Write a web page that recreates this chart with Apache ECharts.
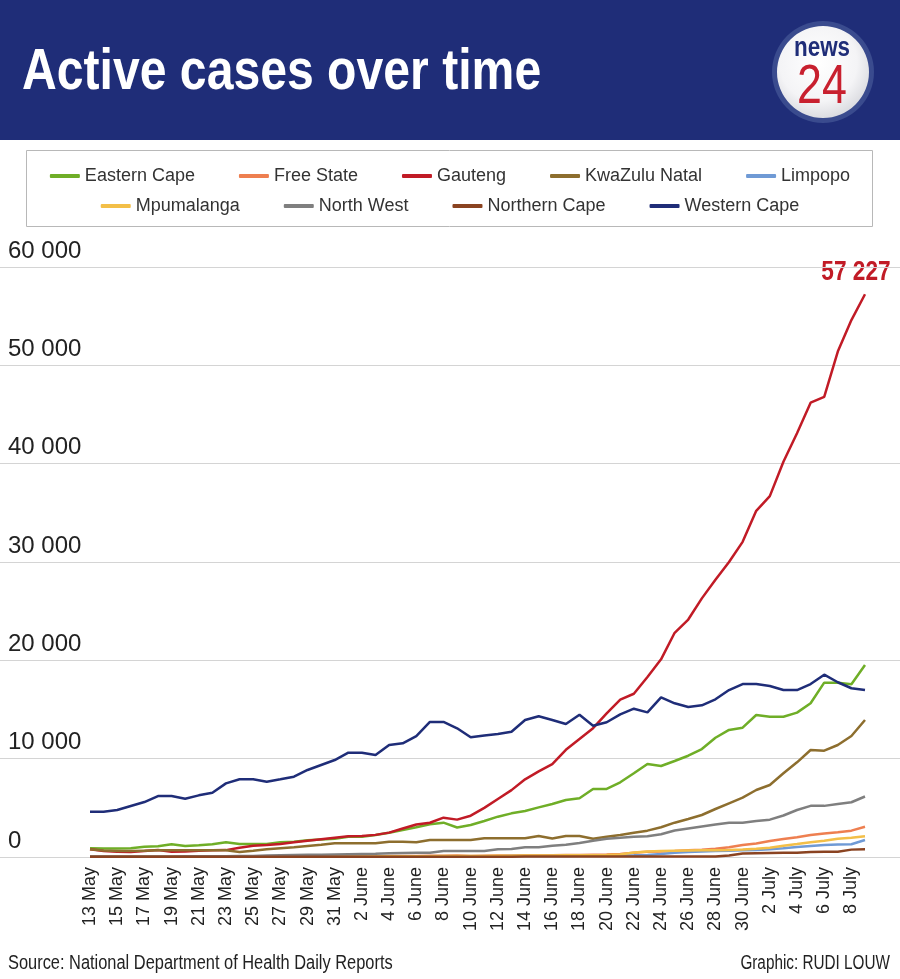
<!DOCTYPE html>
<html><head><meta charset="utf-8">
<script src="https://cdn.jsdelivr.net/npm/echarts@6/dist/echarts.min.js"></script>
<style>html,body{margin:0;padding:0;background:#fff}#c{width:900px;height:979px}</style>
</head><body><div id="c"></div>
<script>
const dates = ['13 May','14 May','15 May','16 May','17 May','18 May','19 May','20 May','21 May','22 May','23 May','24 May','25 May','26 May','27 May','28 May','29 May','30 May','31 May',
'1 June','2 June','3 June','4 June','5 June','6 June','7 June','8 June','9 June','10 June','11 June','12 June','13 June','14 June','15 June','16 June','17 June','18 June','19 June','20 June','21 June','22 June','23 June','24 June','25 June','26 June','27 June','28 June','29 June','30 June',
'1 July','2 July','3 July','4 July','5 July','6 July','7 July','8 July','9 July'];
const yTicks = [0, 10000, 20000, 30000, 40000, 50000, 60000];

const easternCape = [880,870,870,880,1050,1100,1300,1120,1200,1300,
1500,1330,1320,1320,1500,1560,1700,1780,1850,2050,
2070,2240,2470,2750,3020,3330,3490,3000,3250,3660,
4100,4440,4680,5050,5390,5800,5970,6920,6920,7600,
8510,9460,9250,9760,10300,10980,12130,12920,13150,14440,
14270,14270,14680,15630,17730,17730,17560,19530];
const freeState = [60,60,55,55,50,50,45,45,40,40,
40,40,40,40,45,45,50,50,60,60,
70,80,90,100,110,120,130,140,100,130,
150,160,170,180,190,200,210,230,250,300,
420,540,560,600,680,750,850,990,1220,1380,
1620,1820,2000,2230,2400,2520,2680,3080];
const gauteng = [780,620,530,520,600,700,540,560,640,680,
700,950,1150,1220,1320,1500,1650,1800,1950,2100,
2140,2250,2480,2900,3300,3480,4000,3800,4200,5000,
5900,6800,7900,8700,9450,10900,12000,13100,14600,16000,
16600,18300,20100,22800,24150,26300,28200,30000,32050,35200,
36700,40200,43100,46200,46800,51400,54600,57227];
const kwaZuluNatal = [780,650,610,600,640,680,680,680,680,680,
680,510,640,780,900,990,1120,1250,1390,1390,
1390,1390,1560,1540,1490,1730,1730,1730,1730,1900,
1900,1900,1900,2140,1880,2140,2140,1860,2070,2240,
2470,2680,3020,3490,3860,4270,4880,5460,6030,6810,
7320,8510,9630,10880,10810,11390,12300,13930];
const limpopo = [20,20,20,20,25,25,25,30,30,30,
30,35,35,35,40,40,40,45,45,50,
50,55,55,60,60,65,70,70,75,80,
85,90,95,100,105,110,120,130,140,150,
170,200,300,420,520,560,600,640,680,720,
780,880,1020,1120,1220,1280,1300,1730];
const mpumalanga = [20,20,20,25,25,25,30,30,30,35,
35,35,40,40,40,45,45,50,50,55,
60,60,70,70,80,80,90,90,100,110,
120,130,140,150,160,170,180,190,200,250,
450,570,620,640,660,680,690,710,760,850,
950,1150,1320,1500,1650,1850,1950,2100];
const northWest = [50,50,50,50,60,60,60,70,70,80,
80,90,100,150,180,200,220,240,260,280,
300,320,370,400,420,440,610,610,610,610,
780,810,990,1000,1150,1250,1420,1650,1850,1950,
2070,2100,2310,2700,2900,3100,3300,3480,3480,3650,
3800,4220,4780,5200,5200,5390,5570,6150];
const northernCape = [20,20,20,20,20,20,20,20,20,20,
20,20,20,20,25,25,25,25,25,25,
30,30,30,30,30,30,35,35,35,35,
35,35,40,40,40,40,45,45,45,50,
50,50,55,55,60,60,60,150,350,380,
400,420,440,520,540,540,750,780];
const westernCape = [4600,4600,4780,5190,5590,6200,6200,5930,6270,6540,
7490,7900,7900,7660,7900,8170,8850,9360,9860,10610,
10610,10370,11390,11560,12300,13730,13730,13090,12170,12350,
12500,12740,13930,14310,13930,13530,14470,13350,13700,14510,
15080,14710,16240,15630,15250,15430,16040,16980,17590,17590,
17390,16980,16980,17590,18540,17770,17160,16980];

const seriesNames = ['Eastern Cape','Free State','Gauteng','KwaZulu Natal','Limpopo','Mpumalanga','North West','Northern Cape','Western Cape'];
const seriesData = [easternCape, freeState, gauteng, kwaZuluNatal, limpopo, mpumalanga, northWest, northernCape, westernCape];
const seriesColors = ['#6fae27','#ee7f50','#c11b26','#8d6e2e','#6f9ad5','#f3bf48','#7f7f7f','#8a4321','#1f2d78'];

const FONT = "'Liberation Sans',Arial,sans-serif";
const fmt = v => String(v).replace(/\B(?=(\d{3})+(?!\d))/g, ' ');

const series = seriesData.map((d, k) => ({
  name: seriesNames[k], type: 'line', xAxisIndex: 1, yAxisIndex: 1,
  data: d, symbol: 'none', showSymbol: false,
  lineStyle: {width: 2.5, color: seriesColors[k]}, itemStyle: {color: seriesColors[k]},
  emphasis: {disabled: true}
}));

const legendCommon = {left: 'center', itemWidth: 30, itemHeight: 4, icon: 'roundRect', itemGap: 44,
  textStyle: {fontFamily: FONT, fontSize: 18, color: '#333'}};

function txt(x, y, text, font, fill, align, sx) {
  return {type: 'text', x: x, y: y, scaleX: sx, style: {text: text, fill: fill, font: font, align: align, verticalAlign: 'middle'}};
}

const baseGraphic = [
  {type: 'rect', shape: {x: 0, y: 0, width: 900, height: 140}, style: {fill: '#1f2d78'}, silent: true},
  txt(22, 73, 'Active cases over time', "bold 58px 'Liberation Sans',Arial,sans-serif", '#fff', 'left', 0.83),
  {type: 'circle', shape: {cx: 823, cy: 72, r: 51}, style: {fill: '#3a4b8e'}},
  {type: 'circle', shape: {cx: 823, cy: 72, r: 46}, style: {fill: new echarts.graphic.RadialGradient(0.45, 0.4, 0.7, [{offset: 0, color: '#ffffff'}, {offset: 0.6, color: '#f4f4f6'}, {offset: 1, color: '#cfd0d6'}])}},
  txt(822, 48, 'news', "bold 28px 'Liberation Sans',Arial,sans-serif", '#1f2d78', 'center', 0.8),
  txt(822, 88, '24', "56px 'Liberation Sans',Arial,sans-serif", '#c8202f', 'center', 0.8),
  {type: 'rect', shape: {x: 26.5, y: 150.5, width: 846, height: 76}, style: {fill: 'none', stroke: '#b8b8b8', lineWidth: 1}},
  txt(8, 963, 'Source: National Department of Health Daily Reports', "20px 'Liberation Sans',Arial,sans-serif", '#222', 'left', 0.82),
  txt(890, 963, 'Graphic: RUDI LOUW', "20px 'Liberation Sans',Arial,sans-serif", '#222', 'right', 0.765)
];

const chart = echarts.init(document.getElementById('c'));
chart.setOption({
  animation: false,
  backgroundColor: '#fff',
  grid: [{left: 0, right: 0, top: 267, bottom: 122}, {left: 90, right: 35, top: 267, bottom: 122}],
  xAxis: [
    {gridIndex: 0, type: 'value', min: 0, max: 1, show: false},
    {gridIndex: 1, type: 'category', data: dates, boundaryGap: false,
     axisLine: {show: false}, axisTick: {show: false},
     axisLabel: {interval: 1, rotate: 90, margin: 10, fontSize: 18, color: '#222', fontFamily: FONT}}
  ],
  yAxis: [
    {gridIndex: 0, type: 'value', min: yTicks[0], max: yTicks[yTicks.length-1], interval: yTicks[1]-yTicks[0],
     axisLine: {show: false}, axisTick: {show: false},
     splitLine: {lineStyle: {color: '#d4d4d4', width: 1}},
     axisLabel: {inside: true, margin: 8, verticalAlign: 'bottom', padding: [0,0,4,0], fontSize: 24, color: '#222', fontFamily: FONT, formatter: fmt}},
    {gridIndex: 1, type: 'value', min: yTicks[0], max: yTicks[yTicks.length-1], interval: yTicks[1]-yTicks[0], show: false}
  ],
  legend: [
    Object.assign({top: 162, data: seriesNames.slice(0,5)}, legendCommon),
    Object.assign({top: 192, data: seriesNames.slice(5)}, legendCommon)
  ],
  series: series,
  graphic: baseGraphic
});

// end-value annotation for Gauteng, positioned from the axis scales
const gIdx = seriesNames.indexOf('Gauteng');
const lastI = gauteng.length - 1;
const p = chart.convertToPixel({seriesIndex: gIdx}, [lastI, gauteng[lastI]]);
chart.setOption({graphic: baseGraphic.concat([
  txt(p[0] - 9, p[1] - 22, fmt(gauteng[lastI]), "bold 27px 'Liberation Sans',Arial,sans-serif", '#c11b26', 'center', 0.84)
])});
</script></body></html>
